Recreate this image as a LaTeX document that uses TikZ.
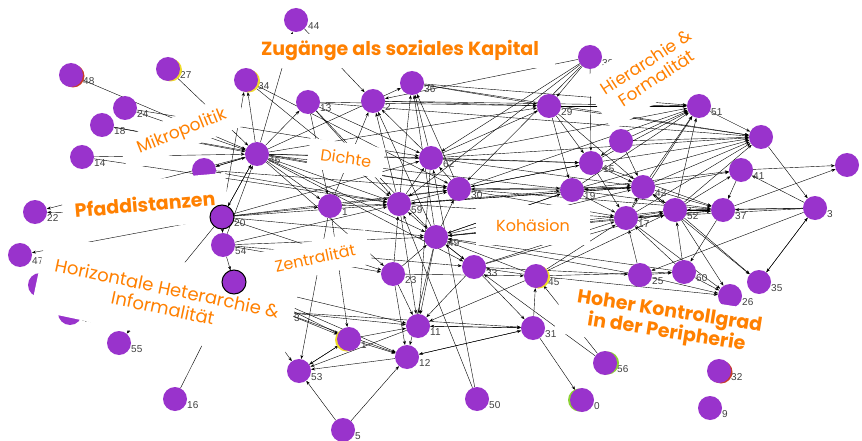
\documentclass[tikz,border=0pt]{standalone}
\usepackage{fontspec}
\newfontfamily\lab{Poppins}
\newfontfamily\numf{Liberation Sans}
\usetikzlibrary{arrows.meta,calc}
\definecolor{vio}{RGB}{153,51,204}
\definecolor{org}{RGB}{255,128,0}
\definecolor{rimy}{RGB}{240,220,40}
\definecolor{rimg}{RGB}{140,210,50}
\definecolor{rimr}{RGB}{200,60,40}
\begin{document}
\begin{tikzpicture}[x=1pt,y=-1pt,
  vnode/.style={circle,minimum size=24pt,inner sep=0pt},
  edge/.style={line width=0.4pt,-{Stealth[length=4pt,width=3pt]}},
  numlab/.style={font=\numf\fontsize{10}{11}\selectfont,text=black!75,anchor=west,inner sep=0pt},
  labbox/.style={fill=white,inner sep=0pt,align=center,text=org,font=\lab\fontsize{16}{18}\selectfont},
  boldbox/.style={labbox,font=\lab\bfseries\fontsize{19}{21}\selectfont},
]
\useasboundingbox (0,0) rectangle (862,441);
\fill[white] (0,0) rectangle (862,441);
% invisible node shapes (for edge ends)
\foreach \n/\x/\y in {44/296/20,48/71/75,27/168/69,34/246/80,24/125/108,18/102/125,14/82/157,
  13/308/102,2/373/101,36/412/83,29/549/106,39/590/57,51/699/106,6/761/137,9x/621/141,
  46/257/154,7/204/170,22/35/212,20/222/217,54/223/245,47/20/255,38/40/285,40/70/313,
  55/119/343,16/175/399,57/234/282,ng/278/306,3b/282/312,1/330/206,59/399/204,62/431/158,
  30/459/189,49/436/237,23/393/274,33/474/267,45/536/276,19/572/190,15/591/163,42/643/187,
  17/626/218,52/675/210,37/723/210,41/741/170,3/815/208,2r/847/165,25/640/275,60/684/272,
  35/759/282,26/730/296,56/605/363,32/719/371,9/710/408,10/582/400,31/533/328,11/418/326,
  12/407/357,21/349/339,53/299/371,5/343/430,50/477/399}
  \node[vnode] (n\n) at (\x,\y) {};
% edges
\foreach \a/\b in {48/46,27/46,24/46,18/46,14/46,46/34,20/34,46/44,44/2,46/13,7/46,46/7,46/22,20/22,
  20/47,20/55,16/57,20/54,54/57,20/46,46/20,54/46,46/59,46/30,46/62,46/1,46/49,46/36,46/29,46/19,
  46/23,46/33,46/15,34/59,34/30,13/59,13/1,13/49,13/62,1/59,1/2,1/30,20/1,20/59,20/30,20/49,20/62,
  54/59,54/49,54/33,54/23,57/21,57/53,57/11,57/12,20/23,7/59,7/30,14/59,18/30,24/62,
  59/2,59/36,49/36,49/2,30/36,62/36,62/2,59/62,59/30,49/59,49/30,23/59,23/49,33/49,49/33,45/49,
  45/33,19/30,15/30,42/59,17/49,52/49,25/49,60/49,19/49,30/62,62/29,36/29,2/29,13/29,39/59,39/30,
  39/62,39/2,49/11,59/11,62/11,23/12,50/59,50/62,11/31,31/11,31/12,12/31,12/53,21/53,53/21,21/11,
  21/12,5/53,5/12,11/53,31/10,31/45,33/31,56/33,56/45,1/21,1/53,3b/11,3b/21,3b/31,3b/12,23/11,
  33/11,45/11,49/12,15/51,19/51,42/51,17/51,52/51,30/51,62/51,9x/51,42/6,52/6,15/6,19/6,9x/6,17/6,
  51/6,29/6,62/6,41/2r,37/2r,3/35,35/3,52/35,42/35,52/26,17/26,25/26,60/26,45/26,37/60,41/37,3/37,
  3/41,3/52,3/17,6/3,19/42,15/42,42/19,17/42,52/42,42/52,42/37,52/37,17/52,19/17,15/17,9x/42,9x/15,
  29/15,29/19,29/42,39/15,45/17,45/52,25/17,60/52,60/17,33/17,33/52,30/15,30/42,30/17,59/19,59/42,
  59/17,49/19,49/42,62/15,62/42,33/25,45/60,25/60,23/45,39/29,29/51,36/51,2/51,13/6,36/6,19/37,
  15/37,17/37,30/37,49/37,42/41,19/41,52/41,3/25}
  \draw[edge] (n\a) -- (n\b);
% number labels
\foreach \n/\t in {44/44,48/48,27/27,34/34,24/24,18/18,14/14,13/13,2/2,36/36,29/29,39/39,51/51,
  46/46,7/7,22/22,20/20,54/54,47/47,40/40,55/55,16/16,3b/3,1/1,59/59,62/62,30/30,49/49,23/23,
  33/33,45/45,19/19,15/15,42/42,17/17,52/52,37/37,41/41,3/3,25/25,60/60,35/35,26/26,56/56,
  32/32,9/9,10/0,31/31,11/11,12/12,21/1,53/53,5/5,50/50}
  \node[numlab] at ($(n\n.center)+(12,6)$) {\t};
% coloured rims
\fill[rimr] ($(n48.center)+(2,1)$) circle (11.5);
\fill[rimy] ($(n27.center)+(2.5,1)$) circle (11.5);
\fill[rimy] ($(n34.center)+(2.5,1)$) circle (11.5);
\fill[rimy] ($(n45.center)+(2.5,1)$) circle (11.5);
\fill[rimy] ($(n21.center)+(-2.5,1)$) circle (11.5);
\fill[rimy] ($(n57.center)+(-2.5,0)$) circle (11.5);
\fill[rimg] ($(n56.center)+(2.5,0)$) circle (11.5);
\fill[rimg] ($(n10.center)+(-2.5,0)$) circle (11.5);
\fill[rimr] ($(n32.center)+(2,1)$) circle (11.5);
\filldraw[fill=rimg,draw=black,line width=0.5pt] (nng) circle (12);
% purple nodes
\foreach \n in {44,48,27,34,24,18,14,13,2,36,29,39,51,6,9x,46,7,22,54,47,38,40,55,16,
  1,59,62,30,49,23,33,45,19,15,42,17,52,37,41,3,2r,25,60,35,26,56,32,9,10,31,11,12,21,53,5,50}
  \fill[vio] (n\n) circle (12);
% label boxes
\node[labbox,rotate=22,minimum width=128pt,minimum height=34pt,font=\lab\fontsize{17}{19}\selectfont] at (182,132) {Mikropolitik};
\node[boldbox,minimum width=310pt,minimum height=34pt] at (400,51) {Zugänge als soziales Kapital};
\node[labbox,rotate=33,minimum width=130pt,minimum height=60pt,font=\lab\fontsize{17}{19}\selectfont] at (651,70) {Hierarchie \&\\Formalität};
\node[labbox,rotate=-8,minimum width=76pt,minimum height=30pt] at (346,158) {Dichte};
\node[boldbox,rotate=5,minimum width=165pt,minimum height=48pt] at (145,204) {Pfaddistanzen};
\node[labbox,minimum width=114pt,minimum height=40pt] at (533,225) {Kohäsion};
\node[labbox,rotate=12,minimum width=110pt,minimum height=34pt] at (315,258) {Zentralität};
\node[labbox,rotate=-12,minimum width=258pt,minimum height=78pt,font=\lab\fontsize{18}{20}\selectfont] at (165,298) {Horizontale Heterarchie \&\\Informalität};
\node[boldbox,rotate=-9,minimum width=222pt,minimum height=54pt] at (668,323) {Hoher Kontrollgrad\\in der Peripherie};
% outlined nodes on top
\filldraw[fill=vio,draw=black,line width=1pt] (n20) circle (12);
\filldraw[fill=vio,draw=black,line width=1pt] (n57) circle (12);
\end{tikzpicture}
\end{document}
